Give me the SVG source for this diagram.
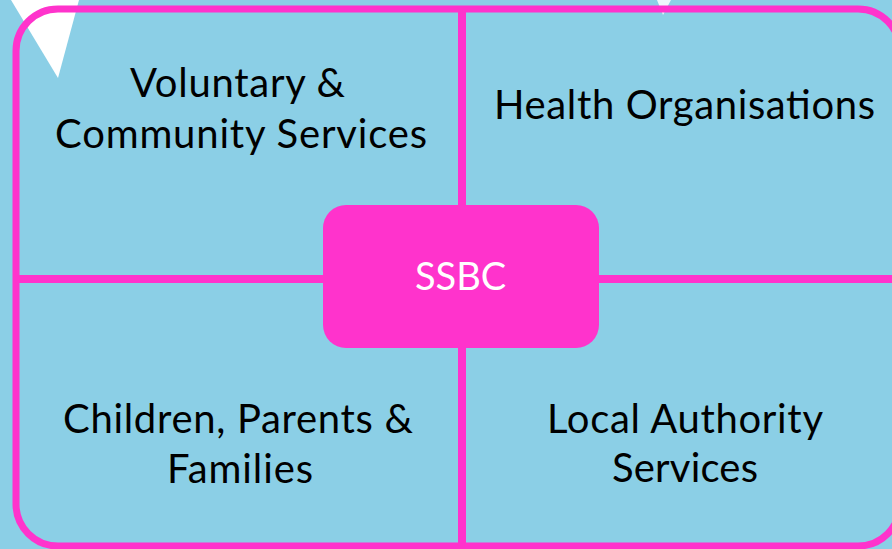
<svg xmlns="http://www.w3.org/2000/svg" width="892" height="549" viewBox="0 0 892 549">
  <style>
    .lbl { font-family: Lato, "Open Sans", "Liberation Sans", sans-serif; font-size: 40px; fill: #000; text-anchor: middle; }
    .ctr { font-family: Lato, "Open Sans", "Liberation Sans", sans-serif; font-size: 38px; fill: #fff; text-anchor: middle; }
    .div { stroke: #FF33CC; stroke-width: 8; fill: none; }
  </style>
  <rect x="0" y="0" width="892" height="549" fill="#8BCFE6"/>
  <polygon points="11,0 79,0 58,78" fill="#ffffff"/>
  <polygon points="657,0 671,0 663,15" fill="#ffffff" opacity="0.85"/>
  <g id="frame">
    <rect x="16" y="9" width="884" height="537" rx="42" ry="42" fill="none" stroke="#FF33CC" stroke-width="7"/>
  </g>
  <g id="connectors">
    <line class="div" x1="462" y1="9" x2="462" y2="546"/>
    <line class="div" x1="16" y1="279" x2="892" y2="279"/>
  </g>
  <g id="voluntary">
    <text class="lbl" x="237.5" y="97" textLength="215">Voluntary &amp;</text>
    <text class="lbl" x="241" y="148" textLength="372">Community Services</text>
  </g>
  <g id="health">
    <text class="lbl" x="684.5" y="119" textLength="381">Health Organisations</text>
  </g>
  <g id="children">
    <text class="lbl" x="238" y="433" textLength="350">Children, Parents &amp;</text>
    <text class="lbl" x="240" y="483" textLength="146">Families</text>
  </g>
  <g id="local">
    <text class="lbl" x="685" y="433" textLength="276">Local Authority</text>
    <text class="lbl" x="685" y="482" textLength="146">Services</text>
  </g>
  <g id="ssbc">
    <rect x="323" y="205" width="276" height="143" rx="23" ry="23" fill="#FF33CC"/>
    <text class="ctr" x="460.5" y="290">SSBC</text>
  </g>
</svg>
